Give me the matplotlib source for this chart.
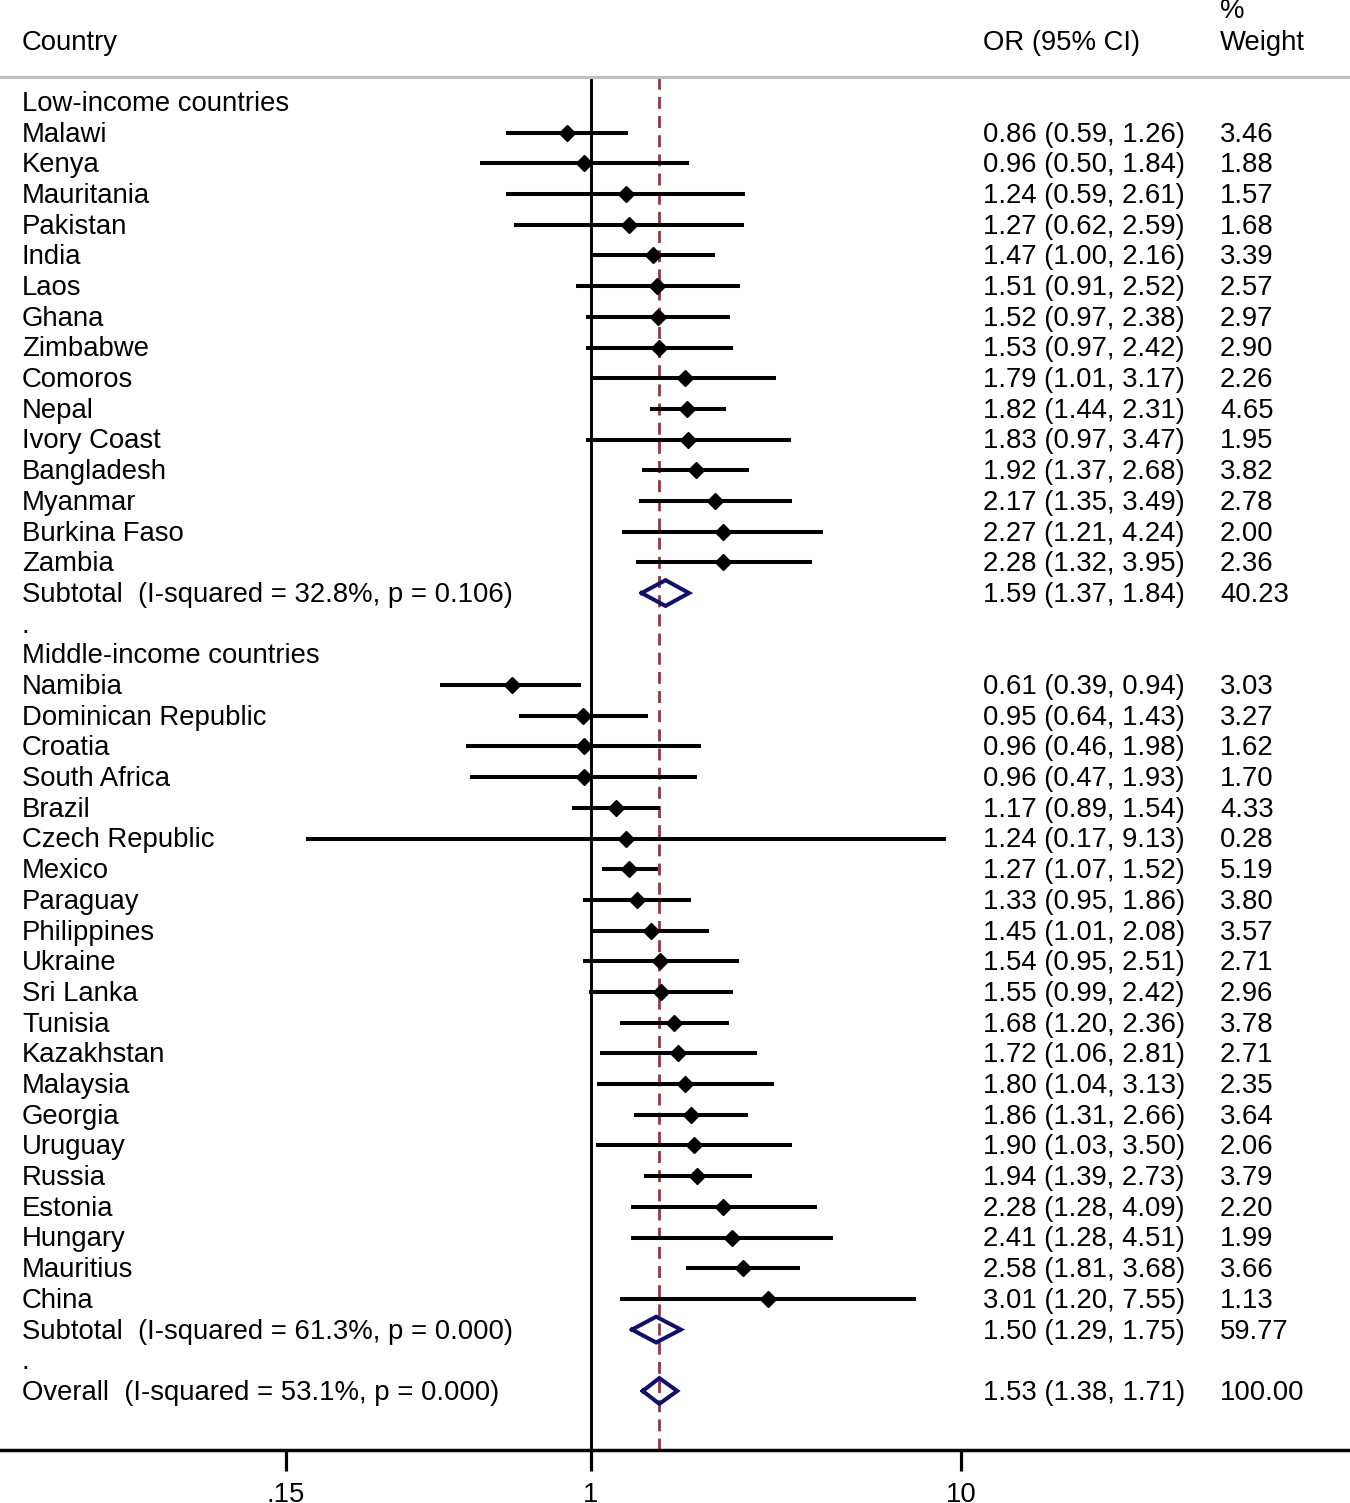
import numpy as np
import matplotlib.pyplot as plt

plt.rcParams['font.family'] = ['Liberation Sans', 'DejaVu Sans']

# Low-income countries
low_names = ["Malawi", "Kenya", "Mauritania", "Pakistan", "India", "Laos", "Ghana",
             "Zimbabwe", "Comoros", "Nepal", "Ivory Coast", "Bangladesh", "Myanmar",
             "Burkina Faso", "Zambia"]
low_or = [0.86, 0.96, 1.24, 1.27, 1.47, 1.51, 1.52, 1.53, 1.79, 1.82, 1.83, 1.92, 2.17, 2.27, 2.28]
low_lo = [0.59, 0.50, 0.59, 0.62, 1.00, 0.91, 0.97, 0.97, 1.01, 1.44, 0.97, 1.37, 1.35, 1.21, 1.32]
low_hi = [1.26, 1.84, 2.61, 2.59, 2.16, 2.52, 2.38, 2.42, 3.17, 2.31, 3.47, 2.68, 3.49, 4.24, 3.95]
low_w = [3.46, 1.88, 1.57, 1.68, 3.39, 2.57, 2.97, 2.90, 2.26, 4.65, 1.95, 3.82, 2.78, 2.00, 2.36]
low_sub = (1.59, 1.37, 1.84, 40.23, "Subtotal  (I-squared = 32.8%, p = 0.106)")

# Middle-income countries
mid_names = ["Namibia", "Dominican Republic", "Croatia", "South Africa", "Brazil",
             "Czech Republic", "Mexico", "Paraguay", "Philippines", "Ukraine", "Sri Lanka",
             "Tunisia", "Kazakhstan", "Malaysia", "Georgia", "Uruguay", "Russia", "Estonia",
             "Hungary", "Mauritius", "China"]
mid_or = [0.61, 0.95, 0.96, 0.96, 1.17, 1.24, 1.27, 1.33, 1.45, 1.54, 1.55, 1.68, 1.72,
          1.80, 1.86, 1.90, 1.94, 2.28, 2.41, 2.58, 3.01]
mid_lo = [0.39, 0.64, 0.46, 0.47, 0.89, 0.17, 1.07, 0.95, 1.01, 0.95, 0.99, 1.20, 1.06,
          1.04, 1.31, 1.03, 1.39, 1.28, 1.28, 1.81, 1.20]
mid_hi = [0.94, 1.43, 1.98, 1.93, 1.54, 9.13, 1.52, 1.86, 2.08, 2.51, 2.42, 2.36, 2.81,
          3.13, 2.66, 3.50, 2.73, 4.09, 4.51, 3.68, 7.55]
mid_w = [3.03, 3.27, 1.62, 1.70, 4.33, 0.28, 5.19, 3.80, 3.57, 2.71, 2.96, 3.78, 2.71,
         2.35, 3.64, 2.06, 3.79, 2.20, 1.99, 3.66, 1.13]
mid_sub = (1.50, 1.29, 1.75, 59.77, "Subtotal  (I-squared = 61.3%, p = 0.000)")

overall = (1.53, 1.38, 1.71, 100.00, "Overall  (I-squared = 53.1%, p = 0.000)")

xticks = [0.15, 1, 10]
xticklabels = [".15", "1", "10"]

# figure geometry (pixels of the 1350x1503 reference)
W, H = 1350, 1503
fig = plt.figure(figsize=(W / 100, H / 100), dpi=100)
ax = fig.add_axes([0, (H - 1450) / H, 1, (1450 - 77) / H])

row0, rowh = 102, 30.69
ax.set_xscale("log")
ax.set_xlim(10 ** (-591 / 370), 10 ** ((W - 591) / 370))
ax.set_ylim((1450 - row0) / rowh, (77 - row0) / rowh)

FS = 19.8
navy = "#10106e"
red = "#943540"
tr = ax.get_yaxis_transform()  # x in axes fraction, y in data
x_or, x_w, x_lab = 983 / W, 1220 / W, 22 / W
base = 0.29


def text_row(y, label, est=None, lo=None, hi=None, w=None):
    ax.text(x_lab, y + base, label, transform=tr, fontsize=FS, va="baseline")
    if est is not None:
        ax.text(x_or, y + base, f"{est:.2f} ({lo:.2f}, {hi:.2f})", transform=tr,
                fontsize=FS, va="baseline")
        ax.text(x_w, y + base, f"{w:.2f}", transform=tr, fontsize=FS, va="baseline")


def study_rows(y, names, ors, los, his, ws):
    for i in range(len(names)):
        yy = y + i
        ax.plot([los[i], his[i]], [yy, yy], color="black", lw=2.9, solid_capstyle="butt")
        ax.plot(ors[i], yy, marker="D", color="black", ms=8)
        text_row(yy, names[i], ors[i], los[i], his[i], ws[i])
    return y + len(names)


def diamond(y, sub):
    est, lo, hi, w, label = sub
    ax.plot([lo, est, hi, est, lo], [y, y - 0.42, y, y + 0.42, y], color=navy, lw=2.9,
            solid_joinstyle="miter")
    text_row(y, label, est, lo, hi, w)


y = 0
text_row(y, "Low-income countries")
y = study_rows(y + 1, low_names, low_or, low_lo, low_hi, low_w)
diamond(y, low_sub)
text_row(y + 1, ".")
y += 2
text_row(y, "Middle-income countries")
y = study_rows(y + 1, mid_names, mid_or, mid_lo, mid_hi, mid_w)
diamond(y, mid_sub)
text_row(y + 1, ".")
diamond(y + 2, overall)

# reference lines
ax.axvline(1, color="black", lw=2.1, zorder=1)
ax.axvline(overall[0], color=red, lw=2.0, dashes=(4.3, 2.6), zorder=1)

# header
hy = (50 - row0) / rowh
ax.text(x_lab, hy, "Country", transform=tr, fontsize=FS, va="baseline")
ax.text(x_or, hy, "OR (95% CI)", transform=tr, fontsize=FS, va="baseline")
ax.text(x_w, hy, "Weight", transform=tr, fontsize=FS, va="baseline")
ax.text(x_w, (18 - row0) / rowh, "%", transform=tr, fontsize=FS, va="baseline")

# axes styling
for s in ["left", "right"]:
    ax.spines[s].set_visible(False)
ax.spines["top"].set_color("#c0c0c0")
ax.spines["top"].set_linewidth(2.3)
ax.spines["bottom"].set_linewidth(2.5)
ax.set_yticks([])
ax.set_xticks(xticks)
ax.set_xticklabels(xticklabels, fontsize=FS)
ax.minorticks_off()
ax.tick_params(axis="x", direction="out", length=15, width=2.3, pad=8)

fig.savefig("out.png", dpi=100)
